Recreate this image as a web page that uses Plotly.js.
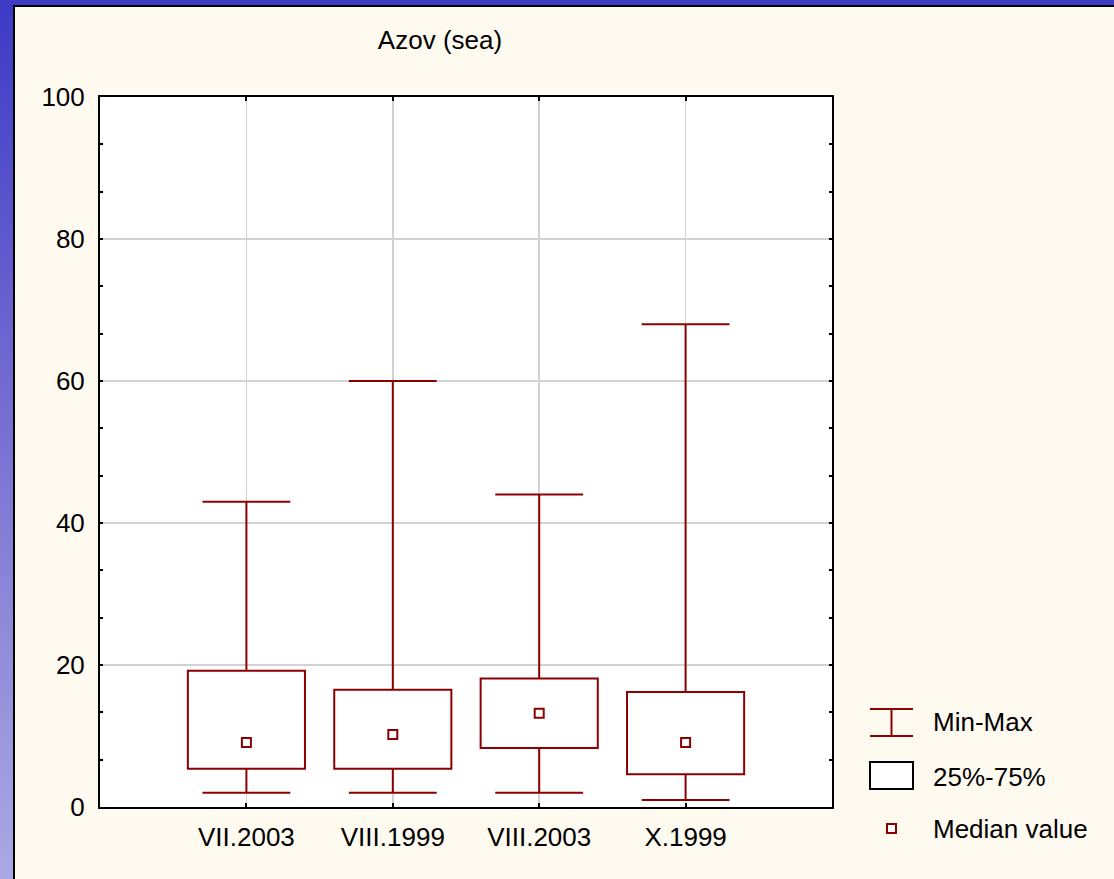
<!DOCTYPE html>
<html>
<head>
<meta charset="utf-8">
<script src="https://cdn.plot.ly/plotly-3.0.1.min.js"></script>
<style>
  html, body { margin: 0; padding: 0; }
  body {
    width: 1114px; height: 879px; overflow: hidden;
    background: linear-gradient(to bottom, #3d3ac6 0%, #6e66d0 40%, #8f88d9 70%, #aca8e4 100%);
    position: relative;
  }
  #frame {
    position: absolute; left: 13px; top: 5px;
    border-left: 2px solid #000; border-top: 2px solid #000;
    background: #fffaf0;
  }
  #chart { width: 1099px; height: 872px; }
</style>
</head>
<body>
<div id="frame"><div id="chart"></div></div>
<script>
// Sampling periods and their summary statistics
const categories  = ['VII.2003', 'VIII.1999', 'VIII.2003', 'X.1999'];
const minVals     = [2, 2, 2, 1];
const q1Vals      = [5.4, 5.4, 8.3, 4.6];
const medianVals  = [9.1, 10.2, 13.2, 9.1];
const q3Vals      = [19.2, 16.5, 18.1, 16.2];
const maxVals     = [43, 60, 44, 68];

const legendLabels = ['Min-Max', '25%-75%', 'Median value'];
const yTicks = [0, 20, 40, 60, 80, 100];

const RED = '#8b0000';
const FONT = "'Liberation Sans', Arial, sans-serif";
const FS = 26;
const W = 1099, H = 872;
const M = { l: 85, r: 282, t: 90, b: 72 };
const PW = W - M.l - M.r, PH = H - M.t - M.b;

const xIdx = categories.map((_, i) => i);
const BOX_W = 0.8, CAP_HALF = 0.3;

// Interquartile boxes drawn as floating bars
const boxTrace = {
  type: 'bar',
  x: xIdx,
  base: q1Vals,
  y: q3Vals.map((v, i) => v - q1Vals[i]),
  width: BOX_W,
  marker: { color: '#ffffff', line: { color: RED, width: 2 } },
  showlegend: false,
  hoverinfo: 'skip'
};

// Whiskers with end caps
const wx = [], wy = [];
xIdx.forEach(i => {
  wx.push(i, i, null, i - CAP_HALF, i + CAP_HALF, null);
  wy.push(q3Vals[i], maxVals[i], null, maxVals[i], maxVals[i], null);
  wx.push(i, i, null, i - CAP_HALF, i + CAP_HALF, null);
  wy.push(q1Vals[i], minVals[i], null, minVals[i], minVals[i], null);
});
const whiskerTrace = {
  type: 'scatter', mode: 'lines',
  x: wx, y: wy,
  line: { color: RED, width: 2 },
  connectgaps: false,
  showlegend: false, hoverinfo: 'skip'
};

// Median markers
const medianTrace = {
  type: 'scatter', mode: 'markers',
  x: xIdx, y: medianVals,
  marker: { symbol: 'square-open', size: 9, color: RED, line: { width: 2, color: RED } },
  showlegend: false, hoverinfo: 'skip'
};

// Page-pixel helpers for the hand-drawn legend
const OX = 15, OY = 7;
const px = x => (x - OX - M.l) / PW;
const py = y => 1 - (y - OY - M.t) / PH;

const shapes = [
  // Min-Max key
  { type: 'line', xref: 'paper', yref: 'paper', x0: px(870), x1: px(913), y0: py(709), y1: py(709), line: { color: RED, width: 2 } },
  { type: 'line', xref: 'paper', yref: 'paper', x0: px(870), x1: px(913), y0: py(736), y1: py(736), line: { color: RED, width: 2 } },
  { type: 'line', xref: 'paper', yref: 'paper', x0: px(891.5), x1: px(891.5), y0: py(709), y1: py(736), line: { color: RED, width: 2 } },
  // 25%-75% key
  { type: 'rect', xref: 'paper', yref: 'paper', x0: px(870), x1: px(913), y0: py(762), y1: py(789), fillcolor: '#ffffff', line: { color: '#000', width: 2 } },
  // Median key
  { type: 'rect', xref: 'paper', yref: 'paper', x0: px(887), x1: px(896), y0: py(824), y1: py(833), fillcolor: '#ffffff', line: { color: RED, width: 2 } }
];

const legendY = [722, 777, 829];
const annotations = legendLabels.map((t, i) => ({
  text: t, xref: 'paper', yref: 'paper',
  x: px(931), y: py(legendY[i]), xanchor: 'left', yanchor: 'middle',
  showarrow: false, font: { family: FONT, size: FS, color: '#000' }
}));

const layout = {
  width: W, height: H,
  margin: M,
  paper_bgcolor: '#fffaf0',
  plot_bgcolor: '#ffffff',
  font: { family: FONT, size: FS, color: '#000' },
  title: {
    text: 'Azov (sea)',
    x: 425 / W, xref: 'container', xanchor: 'center',
    y: 1 - 33 / H, yref: 'container', yanchor: 'middle',
    font: { family: FONT, size: FS, color: '#000' }
  },
  showlegend: false,
  hovermode: false,
  bargap: 0,
  xaxis: {
    range: [-1, 4],
    tickvals: xIdx, ticktext: categories,
    showgrid: true, gridcolor: '#d2d2d2', gridwidth: 1.5,
    zeroline: false,
    showline: true, linecolor: '#000', linewidth: 2, mirror: 'ticks',
    ticks: 'inside', ticklen: 4, tickwidth: 2, tickcolor: '#000',
    ticklabelstandoff: 6,
    fixedrange: true
  },
  yaxis: {
    range: [0, 100],
    tickvals: yTicks,
    showgrid: true, gridcolor: '#d2d2d2', gridwidth: 1.5,
    zeroline: false,
    showline: true, linecolor: '#000', linewidth: 2, mirror: 'allticks',
    ticks: 'inside', ticklen: 3, tickwidth: 2, tickcolor: '#000',
    minor: { dtick: 20 / 3, tick0: 0, ticks: 'inside', ticklen: 3, tickwidth: 2, tickcolor: '#000', showgrid: false },
    ticklabelstandoff: 8,
    fixedrange: true
  },
  shapes: shapes,
  annotations: annotations
};

Plotly.newPlot('chart', [boxTrace, whiskerTrace, medianTrace], layout, { displayModeBar: false, staticPlot: true });
</script>
</body>
</html>
